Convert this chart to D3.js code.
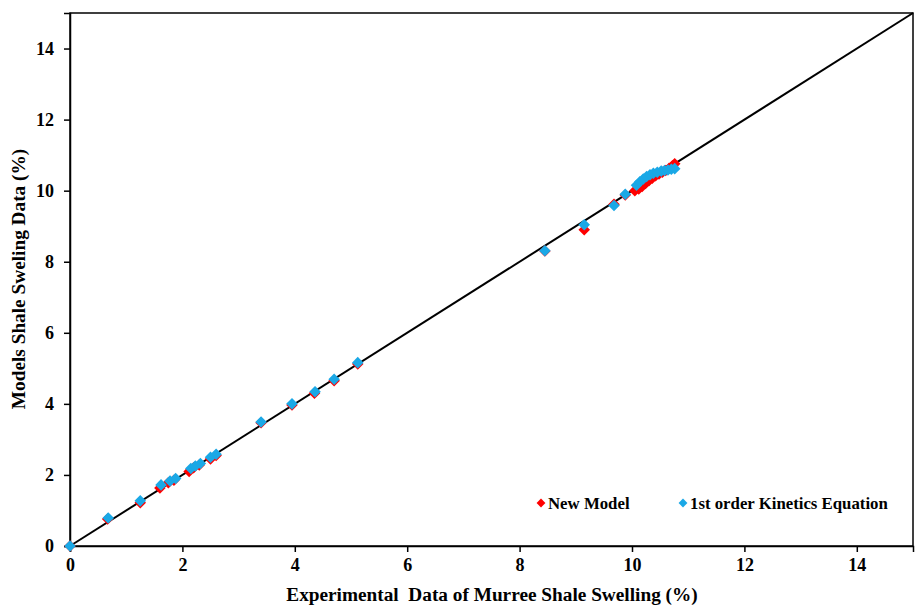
<!DOCTYPE html>
<html><head><meta charset="utf-8">
<script src="https://cdn.jsdelivr.net/npm/d3@7"></script>
<style>body{margin:0;background:#fff}svg{display:block}text{font-family:"Liberation Serif","Times New Roman",serif;font-weight:bold;fill:#000}</style>
</head><body>
<svg id="c" width="915" height="605"></svg>
<script>
const newModelX = [0,0.67,1.25,1.6,1.75,1.85,2.12,2.2,2.3,2.5,2.6,3.4,3.95,4.35,4.7,5.12,8.45,9.15,9.68,9.88,10.05,10.12,10.18,10.24,10.3,10.36,10.42,10.48,10.54,10.6,10.66,10.72,10.76];
const newModelY = [0,0.76,1.22,1.63,1.78,1.85,2.1,2.2,2.28,2.45,2.55,3.47,3.97,4.3,4.65,5.12,8.3,8.9,9.62,9.88,10.0,10.05,10.12,10.2,10.28,10.35,10.42,10.47,10.52,10.57,10.63,10.7,10.76];
const kineticsX = [0,0.68,1.25,1.62,1.78,1.88,2.15,2.23,2.32,2.5,2.6,3.4,3.95,4.36,4.7,5.12,8.45,9.15,9.68,9.88,10.08,10.14,10.2,10.26,10.32,10.38,10.45,10.52,10.58,10.64,10.7,10.76];
const kineticsY = [0,0.79,1.27,1.72,1.83,1.9,2.18,2.25,2.32,2.5,2.58,3.49,4.0,4.34,4.69,5.16,8.31,9.04,9.58,9.9,10.15,10.25,10.33,10.4,10.45,10.49,10.52,10.55,10.57,10.58,10.6,10.62];
const xTicks = [0,2,4,6,8,10,12,14];
const yTicks = [0,2,4,6,8,10,12,14];
const seriesNames = ["New Model","1st order Kinetics Equation"];
const seriesColors = ["#FF0000","#1AA8E6"];
const xTitle = "Experimental  Data of Murree Shale Swelling (%)";
const yTitle = "Models Shale Sweling Data (%)";

const W=915,H=605,m={l:70,t:13,r:2,b:59};
const svg=d3.select("#c");
const x=d3.scaleLinear().domain([0,15]).range([m.l,W-m.r]);
const y=d3.scaleLinear().domain([0,15]).range([H-m.b,m.t]);

svg.append("rect").attr("x",x(0)).attr("y",y(15)).attr("width",x(15)-x(0)).attr("height",y(0)-y(15))
  .attr("fill","none").attr("stroke","#000").attr("stroke-width",1.5);

const xa=svg.append("g").attr("transform",`translate(0,${y(0)})`)
  .call(d3.axisBottom(x).tickValues(xTicks).tickSize(6).tickPadding(6).tickFormat(d3.format("d")));
const ya=svg.append("g").attr("transform",`translate(${x(0)},0)`)
  .call(d3.axisLeft(y).tickValues(yTicks).tickSize(6).tickPadding(10).tickFormat(d3.format("d")));
[xa,ya].forEach(a=>{a.select(".domain").attr("stroke","#000").attr("stroke-width",1.5);
  a.selectAll(".tick line").attr("stroke","#000").attr("stroke-width",1.5);
  a.selectAll("text").attr("font-size",18).attr("font-family","Liberation Serif").attr("font-weight","bold").attr("fill","#000");});

svg.append("line").attr("x1",x(0)).attr("y1",y(0)).attr("x2",x(15)).attr("y2",y(15))
  .attr("stroke","#000").attr("stroke-width",2);

const diamond=d3.symbol().type(d3.symbolDiamond2).size(85);
function draw(xs,ys,col){
  svg.append("g").selectAll("path").data(xs.map((v,i)=>[v,ys[i]])).join("path")
    .attr("d",diamond).attr("transform",d=>`translate(${x(d[0])},${y(d[1])})`).attr("fill",col);
}
draw(newModelX,newModelY,seriesColors[0]);
draw(kineticsX,kineticsY,seriesColors[1]);

svg.append("text").attr("x",492).attr("y",601).attr("text-anchor","middle").attr("font-size",19.3).style("white-space","pre").text(xTitle);
svg.append("text").attr("transform",`translate(25,${279}) rotate(-90)`).attr("text-anchor","middle").attr("font-size",19.3).text(yTitle);

const lg=[{x:541,y:503},{x:683,y:503}];
seriesNames.forEach((n,i)=>{
  svg.append("path").attr("d",d3.symbol().type(d3.symbolDiamond2).size(50)).attr("transform",`translate(${lg[i].x},${lg[i].y})`).attr("fill",seriesColors[i]);
  svg.append("text").attr("x",lg[i].x+7).attr("y",lg[i].y+6).attr("font-size",16.8).text(n);
});
</script>
</body></html>
